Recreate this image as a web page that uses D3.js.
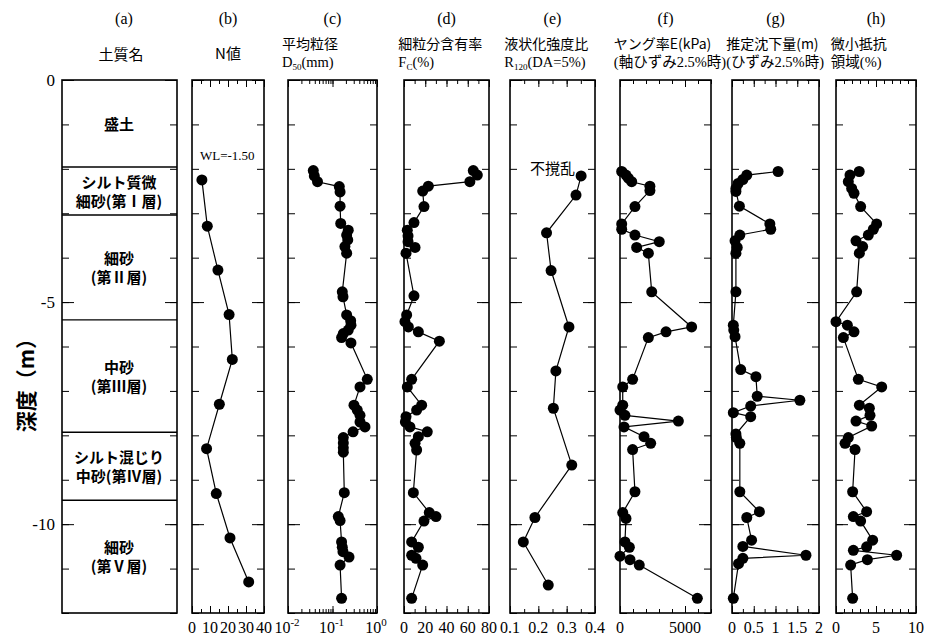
<!DOCTYPE html>
<html>
<head>
<meta charset="utf-8">
<style>
body { margin: 0; background: #fff; }
svg { display: block; }
text { font-family: "Liberation Serif", "Noto Sans CJK JP", serif; fill: #000; }
.jp { font-family: "Noto Sans CJK JP", sans-serif; }
.axis path { display: none; }
.axis line { stroke: #000; stroke-width: 1; }
.frame { fill: none; stroke: #000; stroke-width: 1.6; }
.series path { fill: none; stroke: #000; stroke-width: 1.2; }
.series circle { fill: #000; }
</style>
</head>
<body>
<svg width="930" height="636"></svg>
<script src="https://d3js.org/d3.v7.min.js"></script>
<script>
// depth (m), soil layer boundaries and names
var layerBounds = [0, -1.96, -3.04, -5.4, -7.93, -9.46, -12];
var layerNames = [["盛土"], ["シルト質微", "細砂(第Ⅰ層)"], ["細砂", "(第Ⅱ層)"], ["中砂", "(第Ⅲ層)"], ["シルト混じり", "中砂(第Ⅳ層)"], ["細砂", "(第Ⅴ層)"]];
var depthTicks = [0, -5, -10];

// (b) N値
var nDepth = [-2.25, -3.29, -4.28, -5.28, -6.29, -7.3, -8.3, -9.31, -10.31, -11.3];
var nValue = [5.5, 8.5, 14.4, 20.6, 22.4, 15.2, 8.1, 13.5, 21.1, 31.5];

// (c) D50 (mm)
var d50Depth = [-2.04, -2.16, -2.29, -2.40, -2.52, -2.84, -3.23, -3.38, -3.49, -3.60, -3.75, -3.90, -4.77, -4.88, -5.29, -5.42, -5.52, -5.63, -5.71, -5.80, -5.92, -6.74, -6.91, -7.32, -7.43, -7.55, -7.70, -7.81, -7.92, -8.05, -8.17, -8.28, -8.38, -9.29, -9.83, -9.92, -10.40, -10.52, -10.62, -10.74, -10.92, -11.67];
var d50Value = [0.037, 0.039, 0.046, 0.142, 0.148, 0.148, 0.153, 0.226, 0.208, 0.22, 0.19, 0.208, 0.166, 0.172, 0.208, 0.256, 0.26, 0.226, 0.175, 0.16, 0.26, 0.605, 0.415, 0.304, 0.36, 0.415, 0.415, 0.537, 0.29, 0.175, 0.175, 0.175, 0.175, 0.184, 0.135, 0.148, 0.16, 0.166, 0.172, 0.235, 0.148, 0.16];

// (d) Fc (%)
var fcDepth = [-2.04, -2.14, -2.29, -2.39, -2.50, -2.85, -3.21, -3.38, -3.51, -3.64, -3.77, -3.90, -4.86, -5.29, -5.44, -5.56, -5.67, -5.88, -6.74, -6.91, -7.32, -7.43, -7.58, -7.70, -7.81, -7.92, -8.03, -8.18, -8.33, -9.29, -9.74, -9.83, -9.93, -10.40, -10.52, -10.70, -10.77, -10.92, -11.67];
var fcValue = [65.2, 69, 62, 22.9, 17.6, 18.8, 9.4, 3.1, 3.8, 3.8, 10.4, 1.9, 9.4, 2.5, 0.9, 4.1, 13.5, 33.3, 7.2, 3.1, 16.6, 11.9, 1.9, 1.3, 5.6, 21.9, 13.5, 10.4, 11.9, 8.8, 23.8, 30.1, 18.8, 7.2, 13.5, 7.2, 11.3, 17.6, 7.2];

// (e) R120 (DA=5%)
var rDepth = [-2.16, -2.59, -3.44, -4.29, -5.56, -6.55, -7.39, -8.67, -9.85, -10.40, -11.37];
var rValue = [0.351, 0.333, 0.229, 0.245, 0.308, 0.262, 0.253, 0.318, 0.188, 0.147, 0.235];

// (f) E (kPa)
var eDepth = [-2.06, -2.14, -2.21, -2.29, -2.39, -2.49, -2.85, -3.24, -3.36, -3.49, -3.64, -3.77, -3.90, -4.77, -5.56, -5.67, -5.80, -6.74, -6.91, -7.32, -7.43, -7.55, -7.68, -7.81, -8.03, -8.18, -8.32, -9.27, -9.74, -9.87, -10.40, -10.52, -10.72, -10.80, -10.92, -11.67];
var eValue = [130, 460, 640, 900, 2300, 2300, 1150, 130, 130, 1150, 3020, 1280, 2180, 2440, 5510, 3540, 2180, 970, 210, 210, 0, 380, 4490, 310, 1850, 2360, 970, 1150, 210, 460, 380, 720, 0, 770, 1480, 5950];

// (g) 推定沈下量 (m)
var sDepth = [-2.06, -2.14, -2.24, -2.33, -2.44, -2.51, -2.84, -3.24, -3.36, -3.49, -3.62, -3.77, -3.90, -4.77, -5.52, -5.63, -5.78, -6.52, -6.68, -7.12, -7.21, -7.34, -7.49, -7.58, -7.97, -8.05, -8.18, -9.27, -9.72, -9.85, -10.36, -10.50, -10.70, -10.77, -10.89, -11.67];
var sValue = [1.06, 0.34, 0.25, 0.14, 0.09, 0.09, 0.17, 0.87, 0.89, 0.18, 0.07, 0.12, 0.09, 0.09, 0.03, 0.04, 0.07, 0.2, 0.55, 0.58, 1.56, 0.43, 0.03, 0.43, 0.09, 0.1, 0.18, 0.18, 0.63, 0.34, 0.45, 0.25, 1.70, 0.25, 0.15, 0.03];

// (h) 微小抵抗領域 (%)
var hDepth = [-2.06, -2.14, -2.29, -2.44, -2.55, -2.85, -3.24, -3.36, -3.49, -3.62, -3.75, -3.90, -4.77, -5.44, -5.52, -5.67, -5.80, -6.74, -6.91, -7.32, -7.39, -7.55, -7.68, -7.79, -8.05, -8.18, -8.32, -9.27, -9.72, -9.83, -9.93, -10.36, -10.51, -10.59, -10.70, -10.80, -10.92, -11.67];
var hValue = [2.9, 1.75, 1.54, 1.96, 2.25, 3.08, 5.08, 4.67, 4.04, 2.5, 3.33, 2.92, 2.58, 0, 1.42, 2.25, 0.92, 2.79, 5.71, 2.92, 4.17, 4.25, 2.5, 4.46, 1.54, 1.13, 2.38, 2.08, 3.83, 2.17, 3.08, 4.58, 3.83, 2.17, 7.58, 3.92, 1.83, 2.08];

var svg = d3.select("svg");
var yTop = 80, yBottom = 613;
var y = d3.scaleLinear().domain([0, -12]).range([yTop, yBottom]);
var depthMinor = d3.range(0, -12.5, -1);

var panels = [
  {key: "(b)", name: ["N値"], x0: 192, x1: 264, domain: [0, 40], minor: d3.range(0, 41, 5), major: [0, 10, 20, 30, 40], labels: [0, 10, 20, 30, 40], depth: nDepth, value: nValue},
  {key: "(c)", name: ["平均粒径", "D50(mm)"], x0: 288, x1: 377, log: true, domain: [0.01, 1], depth: d50Depth, value: d50Value},
  {key: "(d)", name: ["細粒分含有率", "FC(%)"], x0: 404, x1: 489, domain: [0, 80], minor: d3.range(0, 81, 10), major: [0, 20, 40, 60, 80], labels: [0, 20, 40, 60, 80], depth: fcDepth, value: fcValue},
  {key: "(e)", name: ["液状化強度比", "R120(DA=5%)"], x0: 510, x1: 595, domain: [0.1, 0.4], minor: d3.range(0.1, 0.401, 0.05), major: [0.1, 0.2, 0.3, 0.4], labels: [0.1, 0.2, 0.3, 0.4], depth: rDepth, value: rValue},
  {key: "(f)", name: ["ヤング率E(kPa)", "(軸ひずみ2.5%時)"], x0: 620, x1: 711, domain: [0, 7000], minor: d3.range(0, 7001, 1000), major: [0, 5000], labels: [0, 5000], depth: eDepth, value: eValue},
  {key: "(g)", name: ["推定沈下量(m)", "(ひずみ2.5%時)"], x0: 732, x1: 819, domain: [0, 2], minor: d3.range(0, 2.01, 0.25), major: [0, 0.5, 1, 1.5, 2], labels: [0, 0.5, 1, 1.5, 2], depth: sDepth, value: sValue},
  {key: "(h)", name: ["微小抵抗", "領域(%)"], x0: 836, x1: 916, domain: [0, 10], minor: d3.range(0, 10.1, 1), major: [0, 5, 10], labels: [0, 5, 10], depth: hDepth, value: hValue}
];

// depth ticks on both sides of a frame
function depthAxes(g, x0, x1) {
  g.append("g").attr("class", "axis").attr("transform", "translate(" + x0 + ",0)")
    .call(d3.axisRight(y).tickValues(depthMinor).tickSize(7).tickFormat(""));
  g.append("g").attr("class", "axis").attr("transform", "translate(" + x0 + ",0)")
    .call(d3.axisRight(y).tickValues(depthTicks).tickSize(12).tickFormat(""));
  g.append("g").attr("class", "axis").attr("transform", "translate(" + x1 + ",0)")
    .call(d3.axisLeft(y).tickValues(depthMinor).tickSize(7).tickFormat(""));
  g.append("g").attr("class", "axis").attr("transform", "translate(" + x1 + ",0)")
    .call(d3.axisLeft(y).tickValues(depthTicks).tickSize(12).tickFormat(""));
  g.append("rect").attr("class", "frame")
    .attr("x", x0).attr("y", yTop).attr("width", x1 - x0).attr("height", yBottom - yTop);
}

// (a) soil column
var ga = svg.append("g");
depthAxes(ga, 62, 177);
ga.selectAll("line.bound").data(layerBounds.slice(1, -1)).enter().append("line")
  .attr("x1", 62).attr("x2", 177).attr("y1", function(d) { return y(d); }).attr("y2", function(d) { return y(d); })
  .attr("stroke", "#000").attr("stroke-width", 1.4);
layerNames.forEach(function(lines, i) {
  var mid = (y(layerBounds[i]) + y(layerBounds[i + 1])) / 2;
  lines.forEach(function(t, j) {
    ga.append("text").attr("class", "jp")
      .attr("x", 119).attr("y", mid + 6 + (j - (lines.length - 1) / 2) * 19)
      .attr("text-anchor", "middle").attr("font-size", 15).attr("font-weight", "bold")
      .text(t);
  });
});
ga.append("text").attr("x", 124).attr("y", 24).attr("text-anchor", "middle").attr("font-size", 16).text("(a)");
ga.append("text").attr("class", "jp").attr("x", 121).attr("y", 60).attr("text-anchor", "middle").attr("font-size", 15).text("土質名");

// depth tick labels
svg.selectAll("text.ylab").data(depthTicks).enter().append("text")
  .attr("x", 55).attr("y", function(d) { return y(d) + 6; })
  .attr("text-anchor", "end").attr("font-size", 17)
  .text(function(d) { return d === 0 ? "0" : "-" + Math.abs(d); });
svg.append("text").attr("class", "jp")
  .attr("transform", "translate(34,380) rotate(-90)")
  .attr("text-anchor", "middle").attr("font-size", 21).attr("font-weight", "bold")
  .text("深度（m）");

panels.forEach(function(p) {
  var g = svg.append("g");
  var x = (p.log ? d3.scaleLog() : d3.scaleLinear()).domain(p.domain).range([p.x0, p.x1]);
  var minor, major;
  if (p.log) {
    minor = [];
    [0.01, 0.1].forEach(function(b) { for (var k = 1; k < 10; k++) minor.push(b * k); });
    minor.push(1);
    major = [0.01, 0.1, 1];
  } else { minor = p.minor; major = p.major; }

  [[minor, 4], [major, 7]].forEach(function(t) {
    g.append("g").attr("class", "axis").attr("transform", "translate(0," + yBottom + ")")
      .call(d3.axisBottom(x).tickValues(t[0]).tickSize(-t[1]).tickFormat(""));
    g.append("g").attr("class", "axis").attr("transform", "translate(0," + yTop + ")")
      .call(d3.axisTop(x).tickValues(t[0]).tickSize(-t[1]).tickFormat(""));
  });
  depthAxes(g, p.x0, p.x1);

  // bottom tick labels
  if (p.log) {
    [-2, -1, 0].forEach(function(e) {
      var t = g.append("text").attr("x", x(Math.pow(10, e)) - 1).attr("y", 633).attr("text-anchor", "middle").attr("font-size", 16);
      t.append("tspan").text("10");
      t.append("tspan").attr("dy", -7).attr("font-size", 11).text(e === 0 ? "0" : "-" + Math.abs(e));
    });
  } else {
    g.selectAll("text.xl").data(p.labels).enter().append("text")
      .attr("x", function(d) { return x(d); }).attr("y", 633)
      .attr("text-anchor", "middle").attr("font-size", 16)
      .text(function(d) { return d; });
  }

  // headers
  var cx = (p.x0 + p.x1) / 2;
  g.append("text").attr("x", cx).attr("y", 24).attr("text-anchor", "middle").attr("font-size", 16).text(p.key);
  if (p.name.length === 1) {
    g.append("text").attr("class", "jp").attr("x", cx).attr("y", 59).attr("text-anchor", "middle").attr("font-size", 15).text(p.name[0]);
  } else {
    var lx = p.x0 + 2 - (p.x1 - p.x0) * 0.09;
    g.append("text").attr("class", "jp").attr("x", lx).attr("y", 49).attr("font-size", 14).text(p.name[0]);
    var l2 = g.append("text").attr("x", lx).attr("y", 67).attr("font-size", 14.5);
    var s = p.name[1];
    var m = s.match(/^(D|R|F)(50|120|C)(.*)$/);
    if (m) {
      l2.append("tspan").text(m[1]);
      l2.append("tspan").attr("font-size", 9).attr("dy", 3).text(m[2]);
      l2.append("tspan").attr("dy", -3).text(m[3]);
    } else {
      l2.text(s);
    }
  }

  // series
  var pts = p.depth.map(function(d, i) { return [x(p.value[i]), y(d)]; });
  var s2 = g.append("g").attr("class", "series");
  s2.append("path").attr("d", d3.line()(pts));
  s2.selectAll("circle").data(pts).enter().append("circle")
    .attr("cx", function(d) { return d[0]; }).attr("cy", function(d) { return d[1]; }).attr("r", 5.5);
});

svg.append("text").attr("x", 200).attr("y", 160).attr("font-size", 13).text("WL=-1.50");
svg.append("text").attr("class", "jp").attr("x", 530).attr("y", 174).attr("font-size", 15).text("不撹乱");
</script>
</body>
</html>
